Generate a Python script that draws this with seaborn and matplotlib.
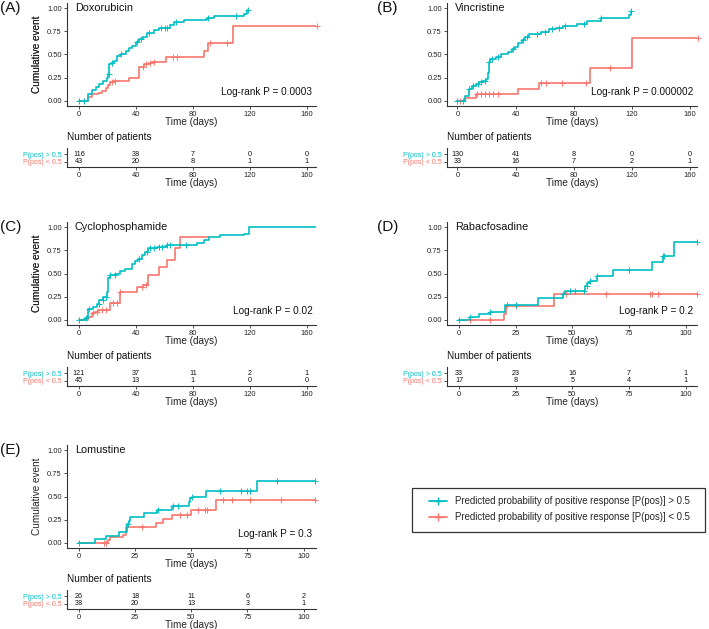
import numpy as np
import matplotlib
matplotlib.use("Agg")
import matplotlib.pyplot as plt
from matplotlib.lines import Line2D
from matplotlib.patches import Rectangle
import seaborn as sns

# colours of the two strata
TEAL = "#00BFC4"
SALMON = "#F8766D"

# Panel data
drugs = ["Doxorubicin", "Vincristine", "Cyclophosphamide", "Rabacfosadine", "Lomustine"]
panel_tags = ["(A)", "(B)", "(C)", "(D)", "(E)"]
pvalues = ["0.0003", "0.000002", "0.02", "0.2", "0.3"]

# step times / cumulative event after each step, end of follow-up, censor times
dox_hi_t = [0, 6.4, 9.4, 11.8, 14, 17, 19.5, 20.7, 21.2, 22.4, 24.7, 27, 29.4, 33, 35.3, 37.6, 40, 42, 45,
            48, 53, 56.5, 64, 67, 74, 90, 95, 116, 118]
dox_hi_v = [0, 0.08, 0.115, 0.15, 0.18, 0.215, 0.245, 0.29, 0.40, 0.41, 0.43, 0.485, 0.51, 0.54, 0.57, 0.59,
            0.63, 0.665, 0.69, 0.735, 0.76, 0.79, 0.82, 0.845, 0.87, 0.89, 0.915, 0.94, 0.98]
dox_hi_end = 119
dox_hi_cens = [0, 3.5, 21, 23.5, 29.5, 41, 43.5, 49, 57.5, 60.5, 62, 68, 90.5, 110.5, 119]
dox_lo_t = [0, 6, 9, 13.6, 16, 19, 20.6, 21.8, 23.6, 35, 42, 46, 49, 51, 61, 88, 90.6, 108]
dox_lo_v = [0, 0.04, 0.07, 0.09, 0.11, 0.14, 0.17, 0.20, 0.22, 0.25, 0.37, 0.40, 0.41, 0.42, 0.47, 0.54,
            0.62, 0.81]
dox_lo_end = 167.5
dox_lo_cens = [23, 25, 45, 47, 50, 53, 66, 69, 92, 104, 167.5]

vin_hi_t = [0, 5.4, 7.8, 10.2, 12.5, 14.9, 17.2, 19.6, 20.8, 21.5, 22.7, 26.7, 29.8, 34.5, 37.3, 39.7, 42,
            44.4, 46.8, 49.1, 57.4, 63.3, 68, 72.8, 82.2, 89.3, 98.7, 118, 119.5]
vin_hi_v = [0, 0.05, 0.13, 0.16, 0.18, 0.20, 0.22, 0.24, 0.30, 0.42, 0.45, 0.47, 0.50, 0.53, 0.56, 0.58,
            0.62, 0.66, 0.69, 0.72, 0.74, 0.77, 0.79, 0.81, 0.83, 0.86, 0.89, 0.92, 0.97]
vin_hi_end = 119.8
vin_hi_cens = [0, 4, 8, 11, 14, 16, 19, 22, 24, 28, 38, 45, 48, 55, 60, 65, 70, 74, 87, 99, 119.8]
vin_lo_t = [0, 5.5, 13, 42, 56, 91.3, 120]
vin_lo_v = [0, 0.03, 0.07, 0.13, 0.19, 0.35, 0.68]
vin_lo_end = 165.5
vin_lo_cens = [2, 13.2, 16, 19, 21.7, 24.6, 27.9, 57.4, 61, 72.3, 88.8, 105, 165.5]

cyc_hi_t = [0, 4.2, 6.6, 9.6, 12.4, 14.3, 17.1, 19.5, 20.7, 21.8, 25.4, 28.9, 32.4, 37.1, 39.4, 41.8, 44.1,
            46.5, 48.8, 54.7, 61.7, 82.9, 87.6, 91.1, 99.3, 115.7, 119.2]
cyc_hi_v = [0, 0.02, 0.12, 0.14, 0.17, 0.22, 0.25, 0.30, 0.45, 0.48, 0.50, 0.53, 0.55, 0.60, 0.63, 0.66,
            0.70, 0.73, 0.77, 0.79, 0.805, 0.83, 0.86, 0.895, 0.91, 0.93, 1.0]
cyc_hi_end = 167.5
cyc_hi_cens = [0, 5, 7, 14, 17, 19, 22, 25, 42, 48, 50, 53, 56, 58, 62, 64, 75]
cyc_lo_t = [0, 6.6, 8.9, 11.3, 13.6, 21.8, 28.9, 40.6, 45.3, 48.8, 55.9, 61.7, 67.6, 71.1]
cyc_lo_v = [0, 0.03, 0.07, 0.09, 0.11, 0.18, 0.30, 0.35, 0.38, 0.48, 0.57, 0.65, 0.77, 0.89]
cyc_lo_end = 91
cyc_lo_cens = [10, 13, 16, 19, 24, 27, 29, 44, 47]

rab_hi_t = [0, 4.7, 8.8, 13.5, 20.2, 34.9, 46, 46.7, 55.5, 56.6, 57.7, 61, 68, 85, 89.8, 94.8]
rab_hi_v = [0, 0.03, 0.06, 0.09, 0.16, 0.24, 0.28, 0.31, 0.37, 0.40, 0.42, 0.47, 0.54, 0.62, 0.69, 0.84]
rab_hi_end = 105
rab_hi_cens = [0, 5, 13.5, 21, 25, 46, 49, 51, 55, 56.5, 58, 61, 75, 90, 90.5, 105]
rab_lo_t = [0, 19.7, 20.6, 41.8]
rab_lo_v = [0, 0.06, 0.15, 0.28]
rab_lo_end = 105
rab_lo_cens = [4.7, 13.5, 25.3, 47.4, 64.8, 84.2, 85, 88, 105]

lom_hi_t = [0, 7.1, 12, 17.9, 21.2, 21.6, 22.2, 22.9, 29, 34.9, 41.6, 49, 49.6, 50.4, 56.4, 79.3]
lom_hi_v = [0, 0.04, 0.08, 0.12, 0.16, 0.20, 0.24, 0.28, 0.32, 0.36, 0.40, 0.44, 0.48, 0.50, 0.56, 0.67]
lom_hi_end = 105
lom_hi_cens = [0, 22, 35, 42, 44, 50.5, 63, 72, 75, 76, 88, 105]
lom_lo_t = [0, 13, 13.8, 19.4, 20.9, 34.5, 37.4, 41.6, 50, 61.1]
lom_lo_v = [0, 0.03, 0.06, 0.09, 0.17, 0.21, 0.26, 0.30, 0.35, 0.46]
lom_lo_end = 105
lom_lo_cens = [11, 12, 28, 45, 48, 53, 56, 57, 64, 68, 76, 90, 105]

# numbers at risk
long_times = [0, 40, 80, 120, 160]
short_times = [0, 25, 50, 75, 100]
dox_risk_hi = [116, 38, 7, 0, 0]
dox_risk_lo = [43, 20, 8, 1, 1]
vin_risk_hi = [130, 41, 8, 0, 0]
vin_risk_lo = [33, 16, 7, 2, 1]
cyc_risk_hi = [121, 37, 11, 2, 1]
cyc_risk_lo = [45, 13, 1, 0, 0]
rab_risk_hi = [33, 23, 16, 7, 1]
rab_risk_lo = [17, 8, 5, 4, 1]
lom_risk_hi = [26, 18, 11, 6, 2]
lom_risk_lo = [38, 20, 13, 3, 1]

row_labels = ["P(pos) > 0.5", "P(pos) < 0.5"]
legend_labels = ["Predicted probability of positive response [P(pos)] > 0.5",
                 "Predicted probability of positive response [P(pos)] < 0.5"]

panels = [
    dict(hi=(dox_hi_t, dox_hi_v, dox_hi_end, dox_hi_cens), lo=(dox_lo_t, dox_lo_v, dox_lo_end, dox_lo_cens),
         risk=(dox_risk_hi, dox_risk_lo), ticks=long_times, xlim=(-8.4, 166.5), col=0, row=0),
    dict(hi=(vin_hi_t, vin_hi_v, vin_hi_end, vin_hi_cens), lo=(vin_lo_t, vin_lo_v, vin_lo_end, vin_lo_cens),
         risk=(vin_risk_hi, vin_risk_lo), ticks=long_times, xlim=(-7.2, 165), col=1, row=0),
    dict(hi=(cyc_hi_t, cyc_hi_v, cyc_hi_end, cyc_hi_cens), lo=(cyc_lo_t, cyc_lo_v, cyc_lo_end, cyc_lo_cens),
         risk=(cyc_risk_hi, cyc_risk_lo), ticks=long_times, xlim=(-8.4, 166.5), col=0, row=1),
    dict(hi=(rab_hi_t, rab_hi_v, rab_hi_end, rab_hi_cens), lo=(rab_lo_t, rab_lo_v, rab_lo_end, rab_lo_cens),
         risk=(rab_risk_hi, rab_risk_lo), ticks=short_times, xlim=(-5.3, 105), col=1, row=1),
    dict(hi=(lom_hi_t, lom_hi_v, lom_hi_end, lom_hi_cens), lo=(lom_lo_t, lom_lo_v, lom_lo_end, lom_lo_cens),
         risk=(lom_risk_hi, lom_risk_lo), ticks=short_times, xlim=(-5.3, 105.5), col=0, row=2),
]

sns.set_style("ticks")
plt.rcParams["font.family"] = ["Liberation Sans", "DejaVu Sans"]

W, H = 709, 629
fig = plt.figure(figsize=(W / 100, H / 100), dpi=100)

AX_COL = "#333333"
TXT_COL = "#222222"


def box(x0, y0, x1, y1):
    return [x0 / W, 1 - y1 / H, (x1 - x0) / W, (y1 - y0) / H]


def style_axis(ax):
    sns.despine(ax=ax)
    for s in ["left", "bottom"]:
        ax.spines[s].set_color(AX_COL)
        ax.spines[s].set_linewidth(0.8)
    ax.tick_params(length=2.5, width=0.6, color=AX_COL, pad=1.2, labelsize=5.4, labelcolor=TXT_COL)


def draw_curve(ax, t, v, end, cens, color):
    xs = list(t) + [end]
    ys = list(v) + [v[-1]]
    sns.lineplot(x=xs, y=ys, drawstyle="steps-post", color=color, lw=1.2, ax=ax,
                 estimator=None, sort=False, legend=False)
    idx = np.searchsorted(np.array(t), np.array(cens), side="right") - 1
    cy = np.array(v)[idx]
    sns.scatterplot(x=cens, y=cy, marker="+", s=14, color=color, linewidth=0.7, ax=ax,
                    legend=False, clip_on=False, zorder=3)


col_x = [(67, 316), (447, 697)]
row_dy = [0, 219, 442]
col_tag_x = [0, 377]

for i, p in enumerate(panels):
    x0, x1 = col_x[p["col"]]
    dy = row_dy[p["row"]]

    # cumulative event panel
    ax = fig.add_axes(box(x0, 3 + dy, x1, 106 + dy))
    draw_curve(ax, *p["lo"], SALMON)
    draw_curve(ax, *p["hi"], TEAL)
    ax.set_xlim(*p["xlim"])
    ax.set_ylim(-0.054, 1.054)
    ax.set_yticks([0, 0.25, 0.5, 0.75, 1.0])
    ax.set_yticklabels(["0.00", "0.25", "0.50", "0.75", "1.00"])
    ax.set_xticks(p["ticks"])
    style_axis(ax)
    ax.set_xlabel("Time (days)", fontsize=7.2, color=TXT_COL)
    ax.xaxis.set_label_coords(0.5, (106 - 122) / 103)
    ax.xaxis.label.set_va("center")
    ax.set_ylabel("Cumulative event", fontsize=7.2, color=TXT_COL)
    ax.yaxis.set_label_coords((37 - x0) / (x1 - x0), 0.5)
    ax.yaxis.label.set_va("center")
    ax.text(0.032, 1.0, drugs[i], transform=ax.get_yaxis_transform(), fontsize=7.8,
            color="#111111", ha="left", va="center")
    ax.text(0.985, 0.1, f"Log-rank P = {pvalues[i]}", transform=ax.get_yaxis_transform(),
            fontsize=7.2, color="#111111", ha="right", va="center")
    fig.text(col_tag_x[p["col"]] / W, 1 - (8 + dy) / H, panel_tags[i], fontsize=11,
             ha="left", va="center", color="#111111")

    # risk table
    tb = fig.add_axes(box(x0, 148 + dy, x1, 167 + dy))
    tb.set_xlim(*p["xlim"])
    tb.set_ylim(2.64, 0.24)
    tb.set_xticks(p["ticks"])
    tb.set_yticks([1, 2])
    tb.set_yticklabels(row_labels)
    style_axis(tb)
    tb.tick_params(axis="y", labelsize=5)
    for lab, c in zip(tb.get_yticklabels(), [TEAL, SALMON]):
        lab.set_color(c)
    for r, counts in enumerate(p["risk"]):
        for t, n in zip(p["ticks"], counts):
            tb.text(t, r + 1, str(n), fontsize=5.2, ha="center", va="center", color="#111111")
    tb.set_xlabel("Time (days)", fontsize=7.2, color=TXT_COL)
    tb.xaxis.set_label_coords(0.5, (167 - 183) / 19)
    tb.xaxis.label.set_va("center")
    fig.text(x0 / W, 1 - (137 + dy) / H, "Number of patients", fontsize=7.2,
             ha="left", va="center", color="#111111")

# shared legend, frame drawn separately for exact placement
fig.patches.append(Rectangle((412 / W, 1 - 532 / H), 293 / W, 44 / H, transform=fig.transFigure,
                             facecolor="white", edgecolor="#333333", linewidth=0.9, zorder=1))
handles = [Line2D([0], [0], color=TEAL, lw=1.3, marker="+", markersize=6, mew=1.0),
           Line2D([0], [0], color=SALMON, lw=1.3, marker="+", markersize=6, mew=1.0)]
leg = fig.legend(handles, legend_labels, loc="upper left", bbox_to_anchor=(429 / W, 1 - 496 / H),
                 borderaxespad=0, borderpad=0, fontsize=6.9, handlelength=1.9, frameon=False,
                 labelspacing=0.62, handletextpad=0.85)
leg.set_zorder(2)

fig.savefig("out.png", dpi=100)
